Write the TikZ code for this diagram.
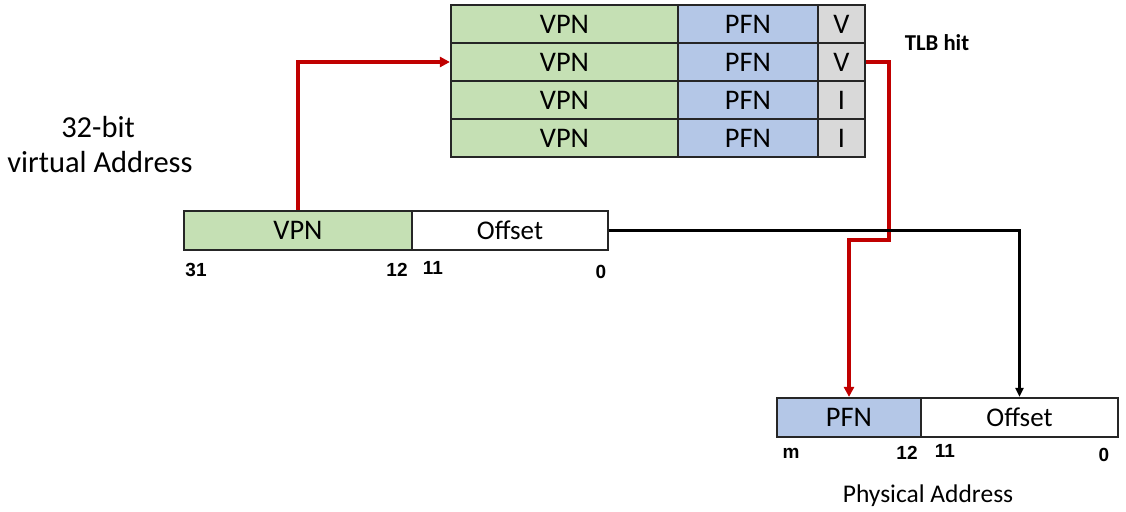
\documentclass[tikz,border=0pt]{standalone}
\usepackage{fontspec}
\setmainfont{Carlito}
\newfontfamily\arialf{Liberation Sans}
\usetikzlibrary{arrows.meta}
\definecolor{cgreen}{HTML}{C5E0B4}
\definecolor{cblue}{HTML}{B4C7E7}
\definecolor{cgray}{HTML}{D9D9D9}
\definecolor{cred}{HTML}{C00000}
\begin{document}
\begin{tikzpicture}[x=1pt,y=-1pt,
  cell/.style={draw=black!85,line width=2.2pt,inner sep=0pt,font=\fontsize{28.4}{30}\selectfont},
  vpncol/.style={cell,fill=cgreen,minimum width=227pt,minimum height=38pt},
  pfncol/.style={cell,fill=cblue,minimum width=140pt,minimum height=38pt},
  vcol/.style={cell,fill=cgray,minimum width=47pt,minimum height=38pt},
  offcell/.style={cell,fill=white,font=\fontsize{27}{30}\selectfont},
  bitlbl/.style={font=\arialf\bfseries\fontsize{19}{21}\selectfont,inner sep=0pt},
  txt/.style={font=\fontsize{30.5}{33}\selectfont,inner sep=0pt},
  redline/.style={draw=cred,line width=3.4pt,-{Triangle[length=10pt,width=10pt]}},
  blkline/.style={draw=black,line width=2.3pt,-{Triangle[length=9pt,width=8pt]}}
]
\useasboundingbox (0,0) rectangle (1126,511);
% TLB
\foreach \i/\y/\f in {1/24/V,2/62/V,3/100/I,4/138/I}{
  \node[vpncol] (t\i vpn) at (564.5,\y) {VPN};
  \node[pfncol] (t\i pfn) at (748,\y) {PFN};
  \node[vcol] (t\i v) at (841.5,\y) {\f};
}
\node[font=\bfseries\fontsize{22.7}{25}\selectfont,inner sep=0pt] (tlbhit) at (937,43) {TLB hit};
% virtual address
\node[txt] (lbl32) at (98,127) {32-bit};
\node[txt] (lblva) at (100,162) {virtual Address};
\node[cell,fill=cgreen,minimum width=228pt,minimum height=39pt] (vvpn) at (298,230.5) {VPN};
\node[offcell,minimum width=196pt,minimum height=39pt] (voff) at (510,230.5) {Offset};
\node[bitlbl] (b31) at (196,270) {31};
\node[bitlbl] (b12) at (397,270) {12};
\node[bitlbl] (b11) at (433,268) {11};
\node[bitlbl] (b0) at (601,272) {0};
% physical address
\node[cell,fill=cblue,minimum width=144pt,minimum height=39pt] (ppfn) at (849,417.5) {PFN};
\node[offcell,minimum width=197pt,minimum height=39pt] (poff) at (1019.5,417.5) {Offset};
\node[bitlbl] (pm) at (791,453) {m};
\node[bitlbl] (p12) at (907,453) {12};
\node[bitlbl] (p11) at (945,451) {11};
\node[bitlbl] (p0) at (1104,455) {0};
\node[font=\fontsize{25.5}{28}\selectfont,inner sep=0pt] (lblpa) at (928,496) {Physical Address};
% connectors
\coordinate (r2) at (889,240);
\draw[redline] (vvpn.north) |- (t2vpn.west);
\draw[redline] (t2v.east) -| (r2) -| (ppfn.north);
\draw[blkline] (voff.east) -| (poff.north);
\end{tikzpicture}
\end{document}
